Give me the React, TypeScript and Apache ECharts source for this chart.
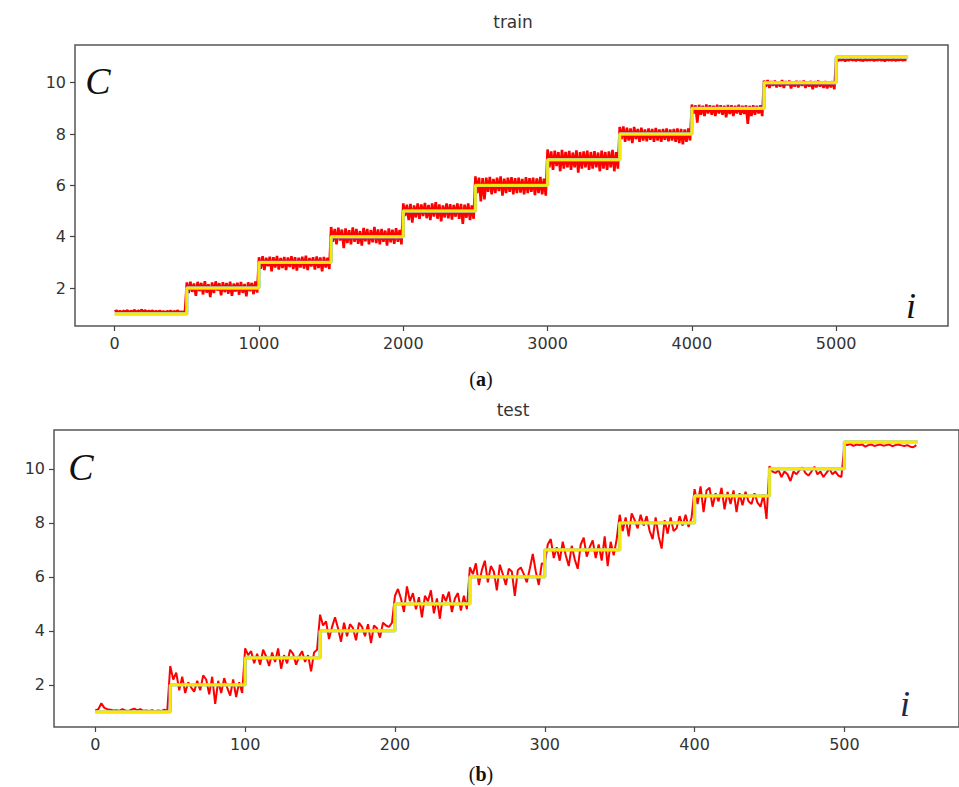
import React, { useEffect, useRef } from "react";
import * as echarts from "echarts";

// Step levels (true class values C) for each block of indices i
const stepLevels = [1, 2, 3, 4, 5, 6, 7, 8, 9, 10, 11];
const trainSegLen = 500;
const testSegLen = 50;
const trainLastIndex = 5499;
const testLastIndex = 549;

const trainXTicks = [0, 1000, 2000, 3000, 4000, 5000];
const testXTicks = [0, 100, 200, 300, 400, 500];
const yTicks = [2, 4, 6, 8, 10];

// Red (predicted) deviations from the step level, sampled across each train block
const trainDev: number[][] = [
  [0.08, 0.12, 0.06, 0.1, 0.05, 0.11, 0.07, 0.13, 0.06, 0.1, 0.08, 0.14, 0.05, 0.12, 0.09, 0.15, 0.07, 0.13, 0.06, 0.11, 0.08, 0.12, 0.05, 0.1, 0.07, 0.11, 0.06, 0.09, 0.04, 0.1, 0.06, 0.11, 0.05, 0.09, 0.07, 0.12, 0.05, 0.08, 0.06, 0.1],
  [0.22, -0.2, 0.25, -0.15, 0.18, -0.3, 0.24, -0.12, 0.2, -0.25, 0.27, -0.18, 0.15, -0.35, 0.22, -0.2, 0.26, -0.1, 0.19, -0.28, 0.23, -0.16, 0.2, -0.22, 0.25, -0.3, 0.17, -0.14, 0.21, -0.26, 0.24, -0.19, 0.16, -0.32, 0.22, -0.12, 0.2, -0.24, 0.26, -0.18],
  [0.2, -0.25, 0.24, -0.3, 0.18, -0.15, 0.22, -0.35, 0.2, -0.2, 0.25, -0.28, 0.17, -0.22, 0.21, -0.3, 0.19, -0.18, 0.24, -0.26, 0.2, -0.32, 0.18, -0.2, 0.22, -0.24, 0.26, -0.3, 0.17, -0.16, 0.2, -0.28, 0.23, -0.22, 0.19, -0.35, 0.21, -0.2, 0.18, -0.26],
  [0.38, -0.2, 0.3, -0.3, 0.35, -0.15, 0.28, -0.45, 0.32, -0.25, 0.25, -0.3, 0.36, -0.2, 0.3, -0.28, 0.22, -0.35, 0.34, -0.18, 0.3, -0.3, 0.26, -0.22, 0.38, -0.25, 0.28, -0.3, 0.3, -0.2, 0.24, -0.35, 0.32, -0.22, 0.27, -0.28, 0.33, -0.2, 0.26, -0.3],
  [0.3, -0.2, 0.25, -0.35, 0.28, -0.45, 0.22, -0.25, 0.3, -0.3, 0.26, -0.2, 0.32, -0.28, 0.24, -0.35, 0.3, -0.22, 0.35, -0.3, 0.26, -0.4, 0.22, -0.25, 0.3, -0.28, 0.27, -0.33, 0.24, -0.22, 0.3, -0.3, 0.28, -0.5, 0.25, -0.26, 0.3, -0.35, 0.22, -0.3],
  [0.35, -0.3, 0.3, -0.62, 0.28, -0.55, 0.3, -0.25, 0.33, -0.35, 0.25, -0.3, 0.3, -0.22, 0.35, -0.4, 0.26, -0.3, 0.3, -0.25, 0.32, -0.35, 0.28, -0.3, 0.3, -0.28, 0.25, -0.35, 0.32, -0.3, 0.28, -0.25, 0.3, -0.38, 0.27, -0.3, 0.33, -0.35, 0.26, -0.4],
  [0.4, -0.3, 0.32, -0.4, 0.35, -0.25, 0.3, -0.45, 0.38, -0.35, 0.3, -0.3, 0.34, -0.4, 0.28, -0.3, 0.36, -0.5, 0.3, -0.35, 0.32, -0.3, 0.35, -0.4, 0.3, -0.35, 0.33, -0.3, 0.28, -0.45, 0.35, -0.35, 0.3, -0.4, 0.32, -0.3, 0.38, -0.45, 0.3, -0.35],
  [0.28, -0.2, 0.3, -0.3, 0.25, -0.25, 0.22, -0.35, 0.28, -0.2, 0.2, -0.3, 0.25, -0.25, 0.18, -0.28, 0.22, -0.22, 0.2, -0.3, 0.24, -0.25, 0.18, -0.3, 0.2, -0.22, 0.22, -0.28, 0.18, -0.25, 0.2, -0.3, 0.22, -0.35, 0.2, -0.4, 0.18, -0.3, 0.22, -0.25],
  [0.15, -0.2, 0.12, -0.55, 0.14, -0.25, 0.1, -0.3, 0.15, -0.2, 0.12, -0.25, 0.1, -0.3, 0.14, -0.2, 0.12, -0.25, 0.1, -0.35, 0.13, -0.22, 0.12, -0.3, 0.1, -0.2, 0.14, -0.25, 0.1, -0.22, 0.12, -0.6, 0.1, -0.3, 0.12, -0.25, 0.1, -0.2, 0.12, -0.3],
  [0.08, -0.15, 0.1, -0.2, 0.06, -0.12, 0.08, -0.18, 0.05, -0.15, 0.1, -0.2, 0.06, -0.1, 0.08, -0.22, 0.05, -0.15, 0.07, -0.18, 0.06, -0.12, 0.08, -0.2, 0.05, -0.15, 0.07, -0.25, 0.06, -0.18, 0.08, -0.15, 0.05, -0.2, 0.06, -0.22, 0.04, -0.18, 0.06, -0.25],
  [-0.08, -0.14, -0.1, -0.12, -0.09, -0.15, -0.1, -0.13, -0.08, -0.12, -0.1, -0.14, -0.09, -0.12, -0.11, -0.15, -0.08, -0.13, -0.1, -0.12, -0.09, -0.14, -0.1, -0.12, -0.08, -0.13, -0.1, -0.15, -0.09, -0.12, -0.1, -0.13, -0.08, -0.14, -0.1, -0.12, -0.09, -0.13, -0.1, -0.12],
];

// Red (predicted) deviations from the step level, sampled across each test block
const testDev: number[][] = [
  [0.05, 0.1, 0.32, 0.15, 0.1, 0.08, 0.05, 0.06, 0.04, 0.1, 0.05, 0.03, 0.08, 0.12, 0.06, 0.1, 0.04, 0.05, 0.03, 0.06, 0.02, 0.05, 0.03, 0.08, 0.04],
  [0.7, 0.2, 0.45, -0.2, 0.3, -0.3, 0.1, -0.1, -0.25, 0.15, -0.2, 0.35, 0.2, -0.35, 0.3, -0.7, 0.15, -0.3, 0.25, -0.1, -0.4, 0.2, -0.45, 0.1, -0.3],
  [0.35, 0.1, 0.25, -0.2, 0.15, -0.25, 0.3, 0.05, -0.3, 0.2, -0.15, 0.35, -0.4, 0.1, -0.2, 0.3, 0.15, -0.25, 0.05, 0.25, -0.15, 0.1, -0.5, 0.2, 0.3],
  [0.6, 0.2, 0.35, -0.3, 0.15, 0.5, 0.1, -0.4, 0.3, -0.2, 0.25, 0.1, -0.35, 0.3, 0.15, -0.2, 0.25, -0.45, 0.2, 0.1, -0.25, 0.3, 0.2, 0.15, 0.3],
  [0.3, 0.55, 0.2, -0.3, 0.65, 0.1, 0.4, -0.2, 0.25, -0.5, 0.3, 0.1, 0.5, -0.35, 0.2, -0.55, 0.35, 0.1, 0.45, -0.3, 0.2, 0.4, -0.25, 0.3, -0.2],
  [0.35, 0.1, 0.5, -0.3, 0.25, 0.6, -0.2, 0.4, 0.2, -0.5, 0.45, 0.1, -0.3, 0.3, 0.2, -0.7, 0.25, 0.35, 0.1, -0.2, 0.3, 0.85, 0.2, -0.3, 0.5],
  [-0.5, 0.2, 0.4, -0.3, 0.1, -0.4, 0.3, -0.2, -0.6, 0.15, -0.35, -0.7, 0.2, 0.45, -0.25, 0.1, 0.35, -0.3, 0.2, -0.4, 0.5, -0.6, 0.3, -0.2, 0.4],
  [0.3, -0.3, 0.2, -0.5, 0.35, 0.1, -0.2, 0.3, -0.1, 0.25, -0.3, -0.6, 0.2, -0.5, -0.95, 0.1, -0.4, 0.2, -0.3, -0.2, 0.25, -0.1, 0.3, -0.15, 0.2],
  [0.25, -0.3, 0.35, -0.6, 0.2, 0.3, -0.4, 0.1, -0.2, 0.3, -0.5, 0.15, -0.3, 0.2, -0.6, 0.1, -0.35, 0.15, -0.2, -0.3, 0.1, -0.25, -0.4, 0.05, -0.85],
  [0.1, -0.1, -0.15, -0.05, -0.3, -0.1, -0.2, -0.45, -0.1, -0.2, -0.05, 0.05, -0.15, -0.25, -0.1, 0.08, -0.2, -0.1, -0.3, -0.15, 0.0, -0.2, -0.1, -0.25, -0.3],
  [-0.1, -0.12, -0.08, -0.15, -0.1, -0.12, -0.1, -0.18, -0.12, -0.1, -0.15, -0.12, -0.1, -0.14, -0.12, -0.1, -0.16, -0.12, -0.1, -0.13, -0.15, -0.12, -0.18, -0.2, -0.12],
];

function buildRed(dev: number[][], segLen: number) {
  const out: number[][] = [];
  dev.forEach((seg, s) => {
    const n = seg.length;
    seg.forEach((d, k) => {
      out.push([s * segLen + (k * segLen) / n, +(stepLevels[s] + d).toFixed(3)]);
    });
  });
  return out;
}

function buildStep(segLen: number, lastIndex: number) {
  const out: number[][] = [];
  stepLevels.forEach((lv, s) => {
    const end = s === stepLevels.length - 1 ? lastIndex : (s + 1) * segLen;
    out.push([s * segLen, lv]);
    out.push([end, lv]);
  });
  return out;
}

const AXIS_COLOR = "#444";
const LABEL_COLOR = "#333";
const FONT = "DejaVu Sans";

const plainNum = (v: number) => String(v);

function xAxisCfg(gridIndex: number, min: number, max: number, ticks: number[]) {
  return {
    type: "value",
    gridIndex,
    min,
    max,
    axisLine: { show: false, onZero: false },
    splitLine: { show: false },
    axisTick: {
      show: true,
      customValues: ticks,
      length: 5,
      lineStyle: { color: AXIS_COLOR, width: 1.2 },
    },
    axisLabel: {
      customValues: ticks,
      formatter: plainNum,
      fontSize: 16,
      color: LABEL_COLOR,
      fontFamily: FONT,
      margin: 9,
    },
  };
}

function yAxisCfg(gridIndex: number, min: number, max: number) {
  return {
    type: "value",
    gridIndex,
    min,
    max,
    axisLine: { show: false, onZero: false },
    splitLine: { show: false },
    axisTick: {
      show: true,
      customValues: yTicks,
      length: 5,
      lineStyle: { color: AXIS_COLOR, width: 1.2 },
    },
    axisLabel: {
      customValues: yTicks,
      formatter: plainNum,
      fontSize: 16,
      color: LABEL_COLOR,
      fontFamily: FONT,
      margin: 9,
    },
  };
}

export default function App() {
  const ref = useRef<HTMLDivElement>(null);

  useEffect(() => {
    if (!ref.current) return;
    const chart = echarts.init(ref.current, undefined, { renderer: "svg" });

    const trainRed = buildRed(trainDev, trainSegLen);
    const testRed = buildRed(testDev, testSegLen);
    const trainStep = buildStep(trainSegLen, trainLastIndex);
    const testStep = buildStep(testSegLen, testLastIndex);

    const trainRedStyle = { color: "#ff0000", width: 2.6 };
    const testRedStyle = { color: "#ff0000", width: 2 };
    const blueStyle = { color: "#7cc8e6", width: 3.4 };
    const yellowStyle = { color: "#ffe600", width: 2.6 };

    const mkLine = (data: number[][], idx: number, lineStyle: any, z: number) => ({
      type: "line",
      xAxisIndex: idx,
      yAxisIndex: idx,
      data,
      showSymbol: false,
      symbol: "none",
      lineStyle,
      z,
      silent: true,
    });

    chart.setOption({
      animation: false,
      backgroundColor: "#ffffff",
      grid: [
        { left: 75, right: 11, top: 45, bottom: 461, show: true, borderColor: "#555", borderWidth: 1.5, backgroundColor: "transparent" },
        { left: 54, right: -11, top: 430, bottom: 60, show: true, borderColor: "#555", borderWidth: 1.5, backgroundColor: "transparent" },
      ],
      xAxis: [
        xAxisCfg(0, -275, 5775, trainXTicks),
        xAxisCfg(1, -27.6, 576.5, testXTicks),
      ],
      yAxis: [yAxisCfg(0, 0.52, 11.47), yAxisCfg(1, 0.44, 11.44)],
      series: [
        mkLine(trainRed, 0, trainRedStyle, 2),
        mkLine(trainStep, 0, blueStyle, 3),
        mkLine(trainStep, 0, yellowStyle, 4),
        mkLine(testRed, 1, testRedStyle, 2),
        mkLine(testStep, 1, blueStyle, 3),
        mkLine(testStep, 1, yellowStyle, 4),
      ],
      graphic: [
        { type: "text", x: 513, y: 22, style: { text: "train", fontSize: 17, fontFamily: FONT, fill: LABEL_COLOR, align: "center", verticalAlign: "middle" } },
        { type: "text", x: 513, y: 410, style: { text: "test", fontSize: 17, fontFamily: FONT, fill: LABEL_COLOR, align: "center", verticalAlign: "middle" } },
        {
          type: "text", x: 481, y: 379,
          style: {
            text: "({b|a})", fontSize: 20, fontFamily: "Liberation Serif", fill: "#111", align: "center", verticalAlign: "middle",
            rich: { b: { fontSize: 20, fontFamily: "Liberation Serif", fontWeight: "bold", fill: "#111" } },
          },
        },
        {
          type: "text", x: 481, y: 774,
          style: {
            text: "({b|b})", fontSize: 20, fontFamily: "Liberation Serif", fill: "#111", align: "center", verticalAlign: "middle",
            rich: { b: { fontSize: 20, fontFamily: "Liberation Serif", fontWeight: "bold", fill: "#111" } },
          },
        },
        { type: "text", x: 98, y: 81, style: { text: "C", fontSize: 38, fontStyle: "italic", fontFamily: "Liberation Serif", fill: "#111", align: "center", verticalAlign: "middle" } },
        { type: "text", x: 81, y: 467, style: { text: "C", fontSize: 38, fontStyle: "italic", fontFamily: "Liberation Serif", fill: "#111", align: "center", verticalAlign: "middle" } },
        { type: "text", x: 911, y: 306, style: { text: "i", fontSize: 36, fontStyle: "italic", fontFamily: "Liberation Serif", fill: "#111", align: "center", verticalAlign: "middle" } },
        { type: "text", x: 905, y: 704, style: { text: "i", fontSize: 36, fontStyle: "italic", fontFamily: "Liberation Serif", fill: "#1a2a4a", align: "center", verticalAlign: "middle" } },
      ],
    });

    return () => chart.dispose();
  }, []);

  return (
    <div
      ref={ref}
      style={{ position: "absolute", left: 0, top: 0, width: 959, height: 787, background: "#fff" }}
    />
  );
}
